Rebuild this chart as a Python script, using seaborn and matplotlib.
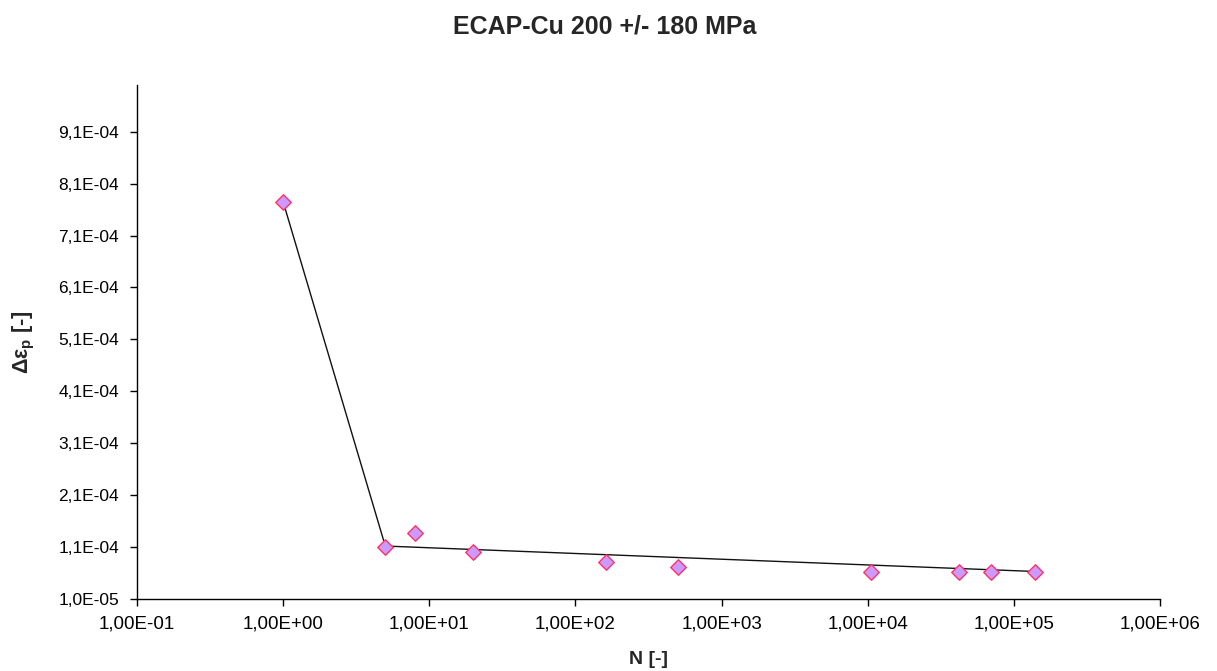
import numpy as np
import pandas as pd
import matplotlib
matplotlib.use("Agg")
import matplotlib.pyplot as plt
import matplotlib.ticker as mticker
import seaborn as sns

# ---- data ----
cycles = [1, 5, 8, 20, 163, 500, 10500, 42000, 70000, 139000]
strain_amp = [7.75e-4, 1.10e-4, 1.37e-4, 1.01e-4, 8.1e-5, 7.2e-5, 6.2e-5, 6.2e-5, 6.2e-5, 6.2e-5]
fit_cycles = [1, 5, 139000]
fit_strain = [7.75e-4, 1.12e-4, 6.3e-5]
x_ticks = [1e-1, 1e0, 1e1, 1e2, 1e3, 1e4, 1e5, 1e6]
y_ticks = [1.0e-5, 1.1e-4, 2.1e-4, 3.1e-4, 4.1e-4, 5.1e-4, 6.1e-4, 7.1e-4, 8.1e-4, 9.1e-4]
title = "ECAP-Cu 200 +/- 180 MPa"

sns.set_theme(style="white")
plt.rcParams["font.family"] = ["Liberation Sans", "DejaVu Sans"]
plt.rcParams["mathtext.fontset"] = "custom"
plt.rcParams["mathtext.rm"] = "Liberation Sans"
plt.rcParams["mathtext.bf"] = "Liberation Sans:bold"
plt.rcParams["mathtext.it"] = "Liberation Sans:italic"

fig = plt.figure(figsize=(12.17, 6.71), dpi=100)
ax = fig.add_axes([137/1217, 1 - 599/671, (1160-137)/1217, (599-85)/671])

df_fit = pd.DataFrame({"N": fit_cycles, "eps": fit_strain})
df = pd.DataFrame({"N": cycles, "eps": strain_amp})

sns.lineplot(data=df_fit, x="N", y="eps", ax=ax, color="#111111", linewidth=1.0,
             sort=False, estimator=None, zorder=2)
sns.scatterplot(data=df, x="N", y="eps", ax=ax, marker="D", s=62,
                color="#CC99FF", edgecolor="#FF3366", linewidth=1.0, zorder=3)

ax.set_xscale("log")
ax.set_xlim(1e-1, 1e6)
ax.set_ylim(1.0e-5, 1.0e-3)
ax.set_xticks(x_ticks)
ax.xaxis.set_minor_locator(mticker.NullLocator())
ax.set_yticks(y_ticks)

def xfmt(v, pos):
    e = int(round(np.log10(v)))
    return f"1,00E{'+' if e >= 0 else '-'}{abs(e):02d}"

def yfmt(v, pos):
    m, e = f"{v:.1E}".split("E")
    e = int(e)
    return f"{m.replace('.', ',')}E{'+' if e >= 0 else '-'}{abs(e):02d}"

ax.xaxis.set_major_formatter(mticker.FuncFormatter(xfmt))
ax.yaxis.set_major_formatter(mticker.FuncFormatter(yfmt))

for s in ["top", "right"]:
    ax.spines[s].set_visible(False)
for s in ["left", "bottom"]:
    ax.spines[s].set_color("black")
    ax.spines[s].set_linewidth(1.0)

ax.tick_params(axis="both", which="major", direction="out", length=5, width=1,
               color="black", labelcolor="black", bottom=True, left=True)
ax.tick_params(axis="y", pad=8, labelsize=12.5)
ax.tick_params(axis="x", pad=7, labelsize=13.5)

ax.set_xlabel("N [-]", fontsize=14, fontweight="bold", labelpad=13)
ax.set_ylabel(r"Δε$_{\mathbf{p}}$ [-]", fontsize=15.5, fontweight="bold", labelpad=15)
fig.suptitle(title, x=605/1217, y=1 - 26/671, va="center", fontsize=18, fontweight="bold")

fig.savefig("out.png", dpi=100)
